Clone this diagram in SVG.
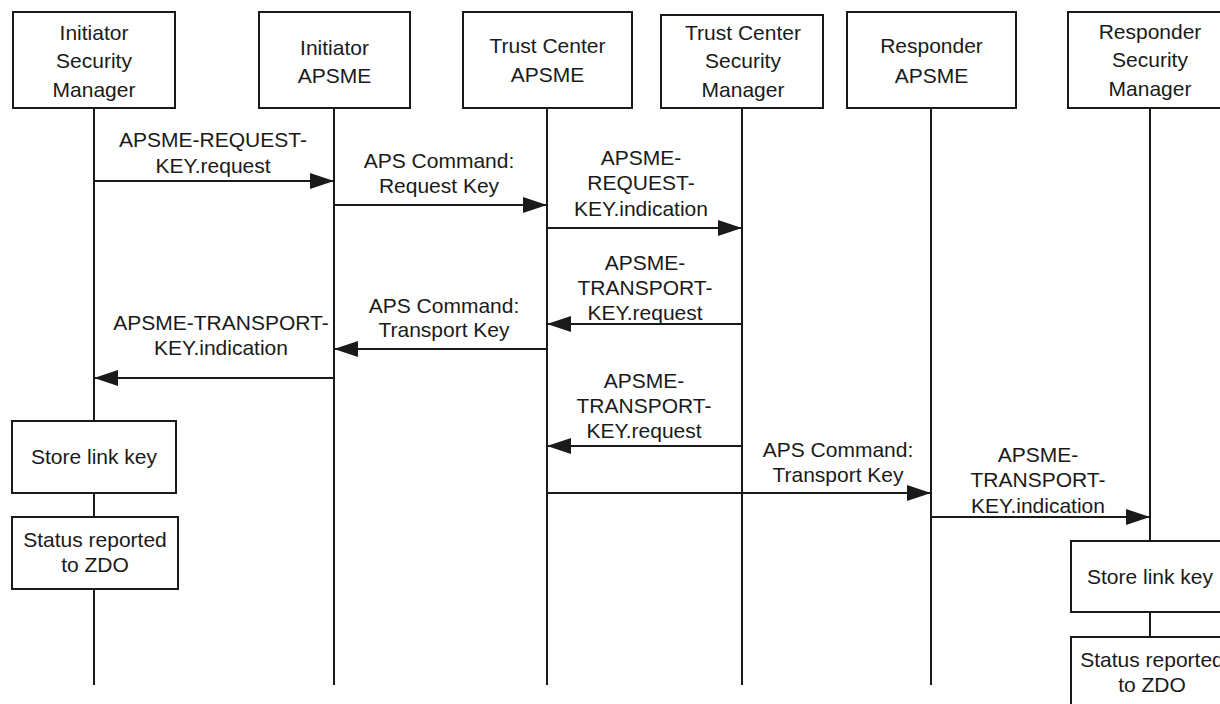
<svg xmlns="http://www.w3.org/2000/svg" width="1220" height="704" viewBox="0 0 1220 704">
<style>
.box{fill:#fff;stroke:#1a1a1a;stroke-width:2}
.life{stroke:#1a1a1a;stroke-width:2;fill:none}
.msg{stroke:#1a1a1a;stroke-width:2;fill:none;marker-end:url(#ah)}
text{font-family:"Liberation Sans",Arial,sans-serif;font-size:21px;fill:#1a1a1a;text-anchor:middle}
</style>
<defs>
<marker id="ah" markerWidth="24" markerHeight="16" refX="24" refY="8" orient="auto" markerUnits="userSpaceOnUse">
<path d="M0,0 L24,8 L0,16 Z" fill="#1a1a1a"/>
</marker>
</defs>
<rect width="1220" height="704" fill="#fff"/>
<g id="lifelines">
<path class="life" d="M94,108 V421 M94,493 V517 M94,589 V685"/>
<path class="life" d="M334,108 V685"/>
<path class="life" d="M547,108 V685"/>
<path class="life" d="M742,108 V685"/>
<path class="life" d="M931,108 V685"/>
<path class="life" d="M1150,108 V541 M1150,612 V637"/>
</g>
<g id="ism"><rect class="box" x="13" y="12" width="162" height="96"/>
<text x="94" y="40">Initiator</text><text x="94" y="68">Security</text><text x="94" y="97">Manager</text></g>
<g id="iapsme"><rect class="box" x="259" y="12" width="151" height="96"/>
<text x="334.5" y="55">Initiator</text><text x="334.5" y="83">APSME</text></g>
<g id="tcapsme"><rect class="box" x="463" y="12" width="169" height="96"/>
<text x="547.5" y="53">Trust Center</text><text x="547.5" y="82">APSME</text></g>
<g id="tcsm"><rect class="box" x="661" y="15" width="162" height="93"/>
<text x="743" y="40">Trust Center</text><text x="743" y="68">Security</text><text x="743" y="97">Manager</text></g>
<g id="rapsme"><rect class="box" x="847" y="12" width="169" height="96"/>
<text x="931.5" y="53">Responder</text><text x="931.5" y="83">APSME</text></g>
<g id="rsm"><rect class="box" x="1068" y="12" width="164" height="96"/>
<text x="1150" y="39">Responder</text><text x="1150" y="67">Security</text><text x="1150" y="96">Manager</text></g>
<g id="store-left"><rect class="box" x="12" y="421" width="164" height="72"/>
<text x="94" y="464">Store link key</text></g>
<g id="status-left"><rect class="box" x="12" y="517" width="166" height="72"/>
<text x="95" y="547">Status reported</text><text x="95" y="572">to ZDO</text></g>
<g id="store-right"><rect class="box" x="1071" y="541" width="160" height="71"/>
<text x="1150" y="584">Store link key</text></g>
<g id="status-right"><rect class="box" x="1071" y="637" width="160" height="80"/>
<text x="1152" y="667">Status reported</text><text x="1152" y="692">to ZDO</text></g>
<g id="connectors">
<line class="msg" x1="94" y1="181" x2="334" y2="181"/>
<line class="msg" x1="334" y1="205" x2="547" y2="205"/>
<line class="msg" x1="547" y1="228" x2="742" y2="228"/>
<line class="msg" x1="742" y1="324" x2="547" y2="324"/>
<line class="msg" x1="547" y1="349" x2="334" y2="349"/>
<line class="msg" x1="334" y1="378" x2="94" y2="378"/>
<line class="msg" x1="742" y1="446" x2="547" y2="446"/>
<line class="msg" x1="547" y1="493" x2="931" y2="493"/>
<line class="msg" x1="931" y1="517" x2="1150" y2="517"/>
</g>
<g id="labels">
<text x="213" y="147">APSME-REQUEST-</text><text x="213" y="173">KEY.request</text>
<text x="439" y="168">APS Command:</text><text x="439" y="193">Request Key</text>
<text x="641" y="165">APSME-</text><text x="641" y="190">REQUEST-</text><text x="641" y="216">KEY.indication</text>
<text x="645" y="270">APSME-</text><text x="645" y="295">TRANSPORT-</text><text x="645" y="320">KEY.request</text>
<text x="444" y="313">APS Command:</text><text x="444" y="337">Transport Key</text>
<text x="221" y="330">APSME-TRANSPORT-</text><text x="221" y="355">KEY.indication</text>
<text x="644" y="388">APSME-</text><text x="644" y="413">TRANSPORT-</text><text x="644" y="438">KEY.request</text>
<text x="838" y="457">APS Command:</text><text x="838" y="482">Transport Key</text>
<text x="1038" y="462">APSME-</text><text x="1038" y="487">TRANSPORT-</text><text x="1038" y="513">KEY.indication</text>
</g>
</svg>
